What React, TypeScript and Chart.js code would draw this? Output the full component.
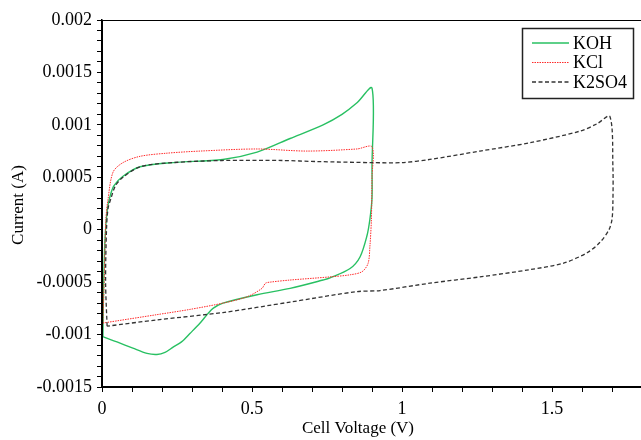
import React, { useEffect, useRef } from "react";
import { Chart, registerables } from "chart.js";

Chart.register(...registerables);

// KOH (green, solid)
const kohV = [0.003, 0.005, 0.01, 0.018, 0.027, 0.04, 0.07, 0.127, 0.237, 0.403, 0.517, 0.627, 0.737, 0.8, 0.85, 0.9,
  0.9, 0.9, 0.893, 0.883, 0.86, 0.827, 0.76, 0.737, 0.627, 0.517, 0.403, 0.37, 0.353, 0.327, 0.293, 0.265, 0.237, 0.21, 0.183, 0.15, 0.103, 0.05, 0.003];
const kohI = [-0.00102, -0.0006, -0.00009, 0.0002, 0.00032, 0.00042, 0.00051, 0.0006, 0.00064, 0.00067, 0.00074, 0.00087, 0.001, 0.0011, 0.00121, 0.00135,
  0.0006, 0.0003, 0.0001, -0.00006, -0.00026, -0.00037, -0.00046, -0.00048, -0.00056, -0.00062, -0.0007, -0.00075, -0.0008, -0.00089, -0.00099, -0.00107, -0.00112, -0.00117, -0.00119, -0.00118, -0.00113, -0.00107, -0.00102];

// KCl (red, dotted)
const kclV = [0.003, 0.008, 0.013, 0.02, 0.037, 0.07, 0.127, 0.217, 0.327, 0.517, 0.683, 0.85, 0.9,
  0.9, 0.898, 0.893, 0.887, 0.867, 0.827, 0.76, 0.627, 0.56, 0.545, 0.533, 0.483, 0.403, 0.293, 0.183, 0.003];
const kclI = [-0.00089, -0.0004, 0.0001, 0.00029, 0.00055, 0.00064, 0.0007, 0.00073, 0.00075, 0.00077, 0.00075, 0.00077, 0.00079,
  0.0005, 0.0001, -0.00016, -0.00032, -0.0004, -0.00043, -0.00045, -0.00048, -0.0005, -0.00051, -0.00056, -0.00064, -0.0007, -0.00076, -0.00081, -0.00089];

// K2SO4 (black, dashed)
const k2so4V = [0.017, 0.012, 0.015, 0.02, 0.03, 0.045, 0.07, 0.127, 0.237, 0.4, 0.6, 0.717, 0.9, 1.0, 1.093, 1.26, 1.427, 1.593, 1.65, 1.693,
  1.703, 1.703, 1.7, 1.69, 1.66, 1.617, 1.537, 1.427, 1.26, 1.093, 0.927, 0.85, 0.627, 0.403, 0.183, 0.017];
const k2so4I = [-0.00092, -0.0005, 0.0, 0.0002, 0.0003, 0.00042, 0.0005, 0.0006, 0.00064, 0.00066, 0.00066, 0.00065, 0.00064, 0.00064, 0.00067, 0.00075, 0.00083, 0.00094, 0.00101, 0.00108,
  0.0006, 0.00026, 0.0001, 0.0, -0.00012, -0.00022, -0.00032, -0.00038, -0.00045, -0.00051, -0.00058, -0.00059, -0.00069, -0.00079, -0.00086, -0.00092];

const seriesLabels = ["KOH", "KCl", "K2SO4"];
const yMajorTicks = [0.002, 0.0015, 0.001, 0.0005, 0, -0.0005, -0.001, -0.0015];
const xMajorTicks = [0, 0.5, 1, 1.5];
const xTitle = "Cell Voltage (V)";
const yTitle = "Current (A)";

const FONT = "'Liberation Serif', 'Times New Roman', serif";
const COLORS = ["#28c062", "#ff2a2a", "#333333"];
const DASHES: number[][] = [[], [1.5, 1], [4, 2.5]];
const WIDTHS = [1.4, 1, 1.3];

function pts(xs: number[], ys: number[]) {
  return xs.map((x, i) => ({ x, y: ys[i] }));
}

const overlay = {
  id: "overlay",
  afterDraw(chart: any) {
    const ctx = chart.ctx as CanvasRenderingContext2D;
    const a = chart.chartArea;
    ctx.save();
    ctx.strokeStyle = "#000";
    ctx.lineWidth = 1;
    ctx.strokeRect(a.left + 0.5, a.top + 0.5, a.right - a.left, a.bottom - a.top);
    ctx.fillStyle = "#000";
    ctx.font = `17px ${FONT}`;
    ctx.textAlign = "center";
    ctx.textBaseline = "middle";
    ctx.fillText(xTitle, 358, 429);
    ctx.translate(19, 205);
    ctx.rotate(-Math.PI / 2);
    ctx.fillText(yTitle, 0, 0);
    ctx.restore();

    ctx.save();
    ctx.fillStyle = "#fff";
    ctx.fillRect(522.5, 28.5, 111, 70);
    ctx.strokeStyle = "#222";
    ctx.lineWidth = 1.5;
    ctx.strokeRect(522.5, 28.5, 111, 70);
    const ys = [43, 62.5, 82];
    chart.data.datasets.forEach((ds: any, i: number) => {
      ctx.beginPath();
      ctx.setLineDash(DASHES[i]);
      ctx.strokeStyle = COLORS[i];
      ctx.lineWidth = WIDTHS[i];
      ctx.moveTo(532, ys[i]);
      ctx.lineTo(569, ys[i]);
      ctx.stroke();
      ctx.setLineDash([]);
      ctx.fillStyle = "#000";
      ctx.font = `18px ${FONT}`;
      ctx.textAlign = "left";
      ctx.textBaseline = "middle";
      ctx.fillText(ds.label, 573, ys[i] + 1);
    });
    ctx.restore();
  },
};

export default function App() {
  const ref = useRef<HTMLCanvasElement>(null);
  useEffect(() => {
    if (!ref.current) return;
    const series = [pts(kohV, kohI), pts(kclV, kclI), pts(k2so4V, k2so4I)];
    const chart = new Chart(ref.current, {
      type: "scatter",
      data: {
        datasets: series.map((d, i) => ({
          label: seriesLabels[i],
          data: d,
          showLine: true,
          borderColor: COLORS[i],
          backgroundColor: COLORS[i],
          borderWidth: WIDTHS[i],
          borderDash: DASHES[i],
          pointRadius: 0,
          tension: 0.3,
          order: 2 - i,
        })),
      },
      options: {
        responsive: false,
        animation: false,
        layout: { padding: { left: 0, top: 20, right: 8, bottom: 0 } },
        plugins: { legend: { display: false }, tooltip: { enabled: false } },
        scales: {
          x: {
            type: "linear",
            min: 0,
            max: 1.8,
            afterFit: (s: any) => { s.height = 53; },
            grid: { display: true, drawOnChartArea: false, drawTicks: true, tickLength: 5, color: "#000", lineWidth: 1 },
            border: { display: true, color: "#000", width: 1.5 },
            ticks: {
              stepSize: 0.1,
              autoSkip: false,
              maxRotation: 0,
              padding: 6,
              color: "#000",
              font: { family: FONT, size: 18 },
              callback: (v: any) => {
                const n = Number(Number(v).toFixed(3));
                return xMajorTicks.some((t) => Math.abs(t - n) < 1e-6) ? String(n) : "";
              },
            },
          },
          y: {
            type: "linear",
            min: -0.0015,
            max: 0.002,
            afterFit: (s: any) => { s.width = 102; },
            grid: { display: true, drawOnChartArea: false, drawTicks: true, tickLength: 5, color: "#000", lineWidth: 1 },
            border: { display: true, color: "#000", width: 1.5 },
            ticks: {
              stepSize: 0.0001,
              autoSkip: false,
              padding: 5,
              color: "#000",
              font: { family: FONT, size: 18 },
              callback: (v: any) => {
                const n = Number(Number(v).toFixed(5));
                return yMajorTicks.some((t) => Math.abs(t - n) < 1e-9) ? String(n) : "";
              },
            },
          },
        },
      },
      plugins: [overlay],
    });
    return () => chart.destroy();
  }, []);
  return (
    <div style={{ position: "fixed", left: 0, top: 0, width: 641, height: 440, overflow: "hidden", background: "#fff" }}>
      <canvas ref={ref} width={650} height={440} style={{ display: "block" }} />
    </div>
  );
}
